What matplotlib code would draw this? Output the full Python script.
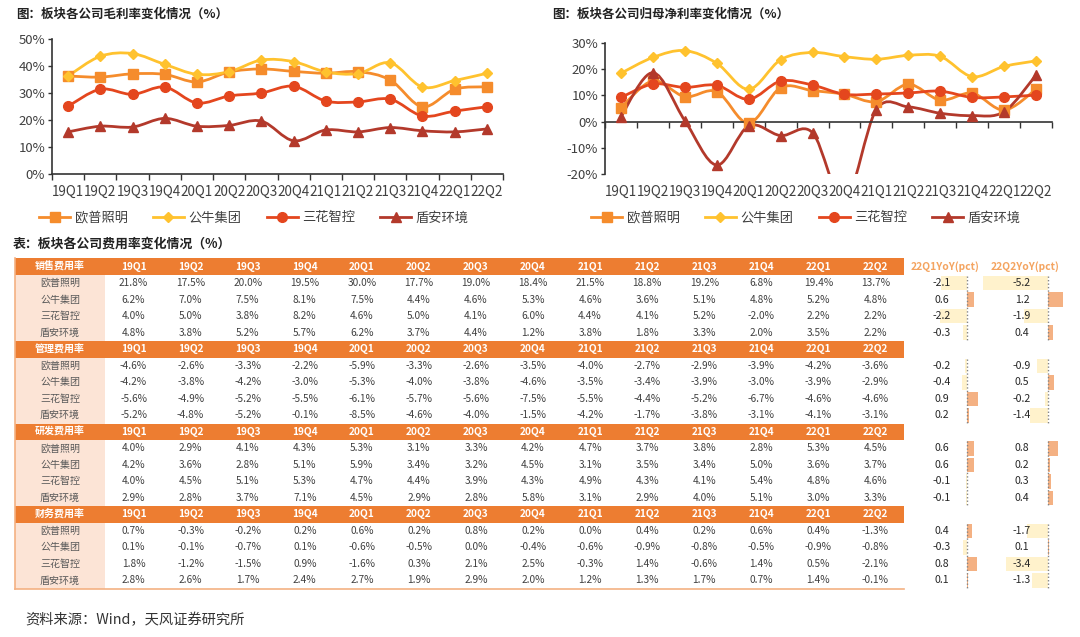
import numpy as np
import matplotlib
matplotlib.use('Agg')
import matplotlib.pyplot as plt
from matplotlib.path import Path
from matplotlib.patches import PathPatch, Rectangle
from matplotlib.lines import Line2D
import matplotlib.transforms as mtransforms

plt.rcParams['font.family'] = ['Noto Sans CJK SC', 'DejaVu Sans']

# ---------------- data ----------------
quarters = ['19Q1', '19Q2', '19Q3', '19Q4', '20Q1', '20Q2', '20Q3', '20Q4',
            '21Q1', '21Q2', '21Q3', '21Q4', '22Q1', '22Q2']
companies = ['欧普照明', '公牛集团', '三花智控', '盾安环境']

# gross margin (%)
gross_op = [36.3, 35.9, 37.1, 36.9, 34.1, 37.8, 38.9, 38.0, 37.3, 37.9, 34.8, 24.9, 31.4, 32.3]
gross_gn = [36.3, 43.6, 44.6, 40.6, 36.9, 37.9, 42.2, 41.6, 37.8, 37.2, 41.2, 32.2, 34.6, 37.3]
gross_sh = [25.1, 31.4, 29.5, 32.2, 26.3, 28.9, 30.0, 32.5, 27.0, 26.7, 27.7, 21.5, 23.3, 24.9]
gross_da = [15.6, 17.7, 17.4, 20.6, 17.7, 18.0, 19.6, 12.3, 16.3, 15.6, 17.2, 16.0, 15.6, 16.7]

# net margin attributable to parent (%)
net_op = [5.3, 15.5, 9.5, 11.4, -0.6, 12.9, 11.8, 10.4, 7.6, 14.2, 8.2, 10.8, 4.4, 12.3]
net_gn = [18.4, 24.4, 27.0, 22.2, 12.3, 23.5, 26.3, 24.7, 23.7, 25.2, 24.8, 17.1, 21.0, 23.1]
net_sh = [9.2, 14.3, 13.0, 13.8, 8.5, 15.4, 13.9, 10.4, 10.5, 10.9, 11.6, 9.2, 9.4, 10.1]
net_da = [1.9, 18.6, 0.4, -16.5, -1.6, -5.3, -4.2, -30.0, 4.6, 5.6, 3.2, 2.3, 3.8, 17.7]

# expense ratio table (%)
block_names = ['销售费用率', '管理费用率', '研发费用率', '财务费用率']
sales = [
    [21.8, 17.5, 20.0, 19.5, 30.0, 17.7, 19.0, 18.4, 21.5, 18.8, 19.2, 6.8, 19.4, 13.7],
    [6.2, 7.0, 7.5, 8.1, 7.5, 4.4, 4.6, 5.3, 4.6, 3.6, 5.1, 4.8, 5.2, 4.8],
    [4.0, 5.0, 3.8, 8.2, 4.6, 5.0, 4.1, 6.0, 4.4, 4.1, 5.2, -2.0, 2.2, 2.2],
    [4.8, 3.8, 5.2, 5.7, 6.2, 3.7, 4.4, 1.2, 3.8, 1.8, 3.3, 2.0, 3.5, 2.2],
]
admin = [
    [-4.6, -2.6, -3.3, -2.2, -5.9, -3.3, -2.6, -3.5, -4.0, -2.7, -2.9, -3.9, -4.2, -3.6],
    [-4.2, -3.8, -4.2, -3.0, -5.3, -4.0, -3.8, -4.6, -3.5, -3.4, -3.9, -3.0, -3.9, -2.9],
    [-5.6, -4.9, -5.2, -5.5, -6.1, -5.7, -5.6, -7.5, -5.5, -4.4, -5.2, -6.7, -4.6, -4.6],
    [-5.2, -4.8, -5.2, -0.1, -8.5, -4.6, -4.0, -1.5, -4.2, -1.7, -3.8, -3.1, -4.1, -3.1],
]
rnd = [
    [4.0, 2.9, 4.1, 4.3, 5.3, 3.1, 3.3, 4.2, 4.7, 3.7, 3.8, 2.8, 5.3, 4.5],
    [4.2, 3.6, 2.8, 5.1, 5.9, 3.4, 3.2, 4.5, 3.1, 3.5, 3.4, 5.0, 3.6, 3.7],
    [4.0, 4.5, 5.1, 5.3, 4.7, 4.4, 3.9, 4.3, 4.9, 4.3, 4.1, 5.4, 4.8, 4.6],
    [2.9, 2.8, 3.7, 7.1, 4.5, 2.9, 2.8, 5.8, 3.1, 2.9, 4.0, 5.1, 3.0, 3.3],
]
finance = [
    [0.7, -0.3, -0.2, 0.2, 0.6, 0.2, 0.8, 0.2, 0.0, 0.4, 0.2, 0.6, 0.4, -1.3],
    [0.1, -0.1, -0.7, 0.1, -0.6, -0.5, 0.0, -0.4, -0.6, -0.9, -0.8, -0.5, -0.9, -0.8],
    [1.8, -1.2, -1.5, 0.9, -1.6, 0.3, 2.1, 2.5, -0.3, 1.4, -0.6, 1.4, 0.5, -2.1],
    [2.8, 2.6, 1.7, 2.4, 2.7, 1.9, 2.9, 2.0, 1.2, 1.3, 1.7, 0.7, 1.4, -0.1],
]
yoy_labels = ['22Q1YoY(pct)', '22Q2YoY(pct)']
yoy_22q1 = [-2.1, 0.6, -2.2, -0.3, -0.2, -0.4, 0.9, 0.2, 0.6, 0.6, -0.1, -0.1, 0.4, -0.3, 0.8, 0.1]
yoy_22q2 = [-5.2, 1.2, -1.9, 0.4, -0.9, 0.5, -0.2, -1.4, 0.8, 0.2, 0.3, 0.4, -1.7, 0.1, -3.4, -1.3]

# ---------------- style ----------------
colors = ['#F58C2C', '#FFC22E', '#E4461E', '#B3392B']
markers = ['s', 'D', 'o', '^']
msizes = [6.8, 5.6, 7.0, 7.2]
TXT = '#404040'
AX = '#333333'

W, H = 1080, 637
fig = plt.figure(figsize=(W / 100, H / 100), dpi=100)

# overlay axes in pixel coordinates (for table / texts), kept on top
axo = fig.add_axes([0, 0, 1, 1])
axo.set_xlim(0, W)
axo.set_ylim(H, 0)
axo.axis('off')
axo.set_zorder(10)


def smooth_path(x, y):
    n = len(x)
    verts = [(x[0], y[0])]
    codes = [Path.MOVETO]
    for i in range(n - 1):
        i0 = max(i - 1, 0)
        i3 = min(i + 2, n - 1)
        c1 = (x[i] + (x[i + 1] - x[i0]) / 6.0, y[i] + (y[i + 1] - y[i0]) / 6.0)
        c2 = (x[i + 1] - (x[i3] - x[i]) / 6.0, y[i + 1] - (y[i3] - y[i]) / 6.0)
        verts += [c1, c2, (x[i + 1], y[i + 1])]
        codes += [Path.CURVE4] * 3
    return Path(verts, codes)


def px_rect(l, t, r, b):
    return [l / W, 1 - b / H, (r - l) / W, (b - t) / H]


def line_chart(rect, series, ylim, yticks, title, title_xy, legend_cx):
    ax = fig.add_axes(rect)
    x = np.arange(len(quarters))
    for s, c, m, ms in zip(series, colors, markers, msizes):
        p = PathPatch(smooth_path(x, np.array(s, float)), fill=False,
                      edgecolor=c, lw=2.0, zorder=2, capstyle='round')
        ax.add_patch(p)
        ax.plot(x, s, ls='none', marker=m, ms=ms, color=c, mec=c, zorder=3)
    ax.set_xlim(-0.5, len(quarters) - 0.5)
    ax.set_ylim(*ylim)
    ax.set_yticks(yticks)
    ax.set_yticklabels([f'{v}%' for v in yticks])
    ax.tick_params(axis='y', direction='out', length=3, width=1, pad=2,
                   labelsize=9.5, labelcolor=TXT, color=AX)
    ax.set_xticks(np.arange(-0.5, len(quarters), 1))
    ax.set_xticklabels([])
    ax.tick_params(axis='x', direction='out', length=4, width=1, color=AX)
    for sp in ['top', 'right']:
        ax.spines[sp].set_visible(False)
    ax.spines['left'].set_color(AX)
    ax.spines['left'].set_linewidth(1.2)
    ax.spines['bottom'].set_color(AX)
    ax.spines['bottom'].set_linewidth(1.2)
    ax.spines['bottom'].set_position(('data', 0))
    ax.patch.set_alpha(0)
    # category labels under the plot
    bt = mtransforms.blended_transform_factory(ax.transData, fig.transFigure)
    for i, q in enumerate(quarters):
        ax.text(i, 1 - 191.5 / H, q, transform=bt, ha='center', va='center',
                fontsize=9.7, color=TXT, clip_on=False)
    fig.text(title_xy[0] / W, 1 - title_xy[1] / H, title, ha='left', va='center',
             fontsize=9, fontweight='bold', color='#222222')
    handles = [Line2D([], [], color=c, marker=m, ms=ms, lw=2.0)
               for c, m, ms in zip(colors, markers, msizes)]
    ax.legend(handles, companies, loc='center', bbox_to_anchor=(legend_cx / W, 1 - 218 / H),
              bbox_transform=fig.transFigure, ncol=4, frameon=False, fontsize=9.5,
              handlelength=2.35, handletextpad=0.35, columnspacing=1.9,
              labelcolor=TXT)
    return ax


line_chart(px_rect(52, 39, 503, 174), [gross_op, gross_gn, gross_sh, gross_da],
           (0, 50), [0, 10, 20, 30, 40, 50], '图：板块各公司毛利率变化情况（%）', (16, 14), 254)
line_chart(px_rect(605, 42.7, 1052, 174.3), [net_op, net_gn, net_sh, net_da],
           (-20, 30), [-20, -10, 0, 10, 20, 30], '图：板块各公司归母净利率变化情况（%）', (552, 14), 806)

# ---------------- table ----------------
ORANGE = '#ED7D31'
PEACH = '#FCE4D6'
X0, XL = 15, 105
CW = (904 - XL) / 14.0
TOP = 258.3
HDR_H = 16.6
ROW_H = 16.5
blocks = [sales, admin, rnd, finance]

fig.text(13 / W, 1 - 244 / H, '表：板块各公司费用率变化情况（%）', ha='left', va='center',
         fontsize=9.3, fontweight='bold', color='#222222')

row_centers = []
block_spans = []
for b, (bname, data) in enumerate(zip(block_names, blocks)):
    ht = TOP + b * (HDR_H + 4 * ROW_H)
    axo.add_patch(Rectangle((X0, ht), 904 - X0, HDR_H, facecolor=ORANGE, edgecolor='none', zorder=1))
    axo.text((X0 + XL) / 2, ht + HDR_H / 2, bname, ha='center', va='center', fontsize=7.2,
             fontweight='bold', color='white', zorder=3)
    for j, q in enumerate(quarters):
        axo.text(XL + CW * (j + 0.5), ht + HDR_H / 2, q, ha='center', va='center', fontsize=7.3,
                 fontweight='bold', color='white', zorder=3)
    rt0 = ht + HDR_H
    axo.add_patch(Rectangle((X0, rt0), XL - X0, 4 * ROW_H, facecolor=PEACH, edgecolor='none', zorder=1))
    block_spans.append((rt0 + 1, rt0 + 4 * ROW_H - 1))
    for r, (cname, vals) in enumerate(zip(companies, data)):
        yc = rt0 + ROW_H * (r + 0.5)
        row_centers.append(yc)
        axo.text((X0 + XL) / 2, yc, cname, ha='center', va='center', fontsize=7.2,
                 color='#595959', zorder=3)
        for j, v in enumerate(vals):
            axo.text(XL + CW * (j + 0.5), yc, f'{v:.1f}%', ha='center', va='center',
                     fontsize=7.3, color=TXT, zorder=3)

tb = TOP + 4 * (HDR_H + 4 * ROW_H)
axo.plot([X0, X0], [TOP, tb], color='#F4B183', lw=1.2, zorder=4)
axo.plot([X0, 904], [tb, tb], color='#F4B183', lw=1.2, zorder=4)

# ---------------- YoY data bars ----------------
SCALE = 12.4  # px per pct


def yoy_column(vals, label, base, left, right, text_cx):
    ax = fig.add_axes([left / W, 0, (right - left) / W, 1])
    ax.set_xlim((left - base) / SCALE, (right - base) / SCALE)
    ax.set_ylim(H, 0)
    ax.axis('off')
    ax.patch.set_alpha(0)
    ax.set_zorder(1)
    cols = ['#F4B183' if v > 0 else '#FFF2CC' for v in vals]
    ax.barh(row_centers, vals, height=14.5, left=0, color=cols, edgecolor='none', zorder=1)
    for (y0, y1) in block_spans:
        ax.vlines(0, y0, y1, colors='#858585', linestyles=(0, (1, 1.5)), lw=1.0, zorder=2)
    axo.text(text_cx + 3, TOP + HDR_H / 2, label, ha='center', va='center', fontsize=7.4,
             fontweight='bold', color='#F4A460', zorder=3)
    for v, yc in zip(vals, row_centers):
        axo.text(text_cx, yc, f'{v:.1f}', ha='center', va='center', fontsize=7.6,
                 color='#262626', zorder=5)


yoy_column(yoy_22q1, yoy_labels[0], 967, 925, 995, 942)
yoy_column(yoy_22q2, yoy_labels[1], 1047.7, 975, 1072, 1022)

fig.text(25 / W, 1 - 620 / H, '资料来源：Wind，天风证券研究所', ha='left', va='center',
         fontsize=10.3, color='#333333')

fig.savefig('out.png', dpi=100)
